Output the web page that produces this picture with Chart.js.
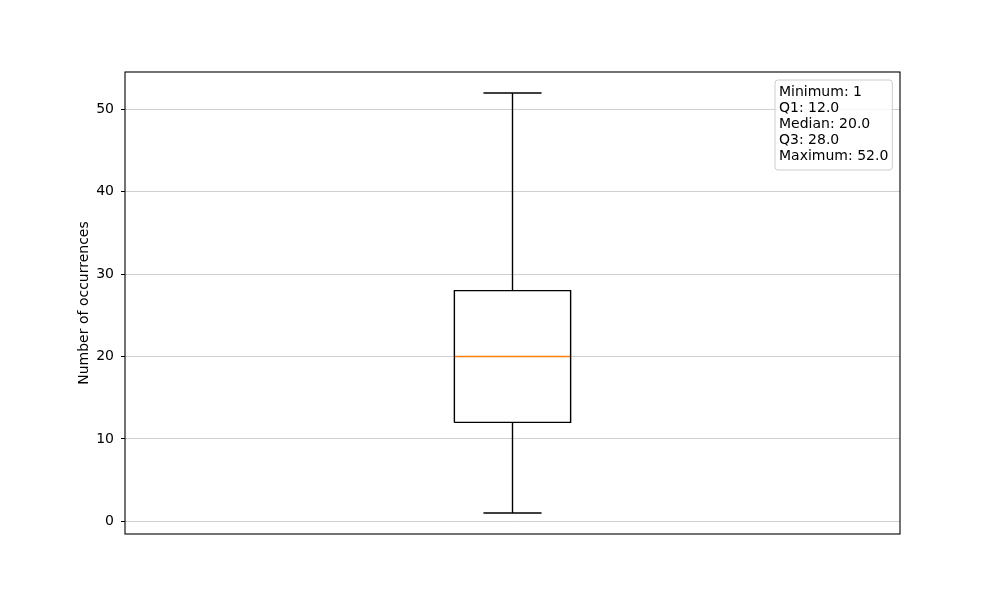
<!DOCTYPE html>
<html>
<head>
<meta charset="utf-8">
<script src="https://cdn.jsdelivr.net/npm/chart.js@4.4.0/dist/chart.umd.min.js"></script>
<style>
html,body{margin:0;padding:0;background:#fff;}
canvas{display:block;}
</style>
</head>
<body>
<canvas id="c" width="1000" height="600"></canvas>
<script>
// ---- data ----
const statNames = ['Minimum', 'Q1', 'Median', 'Q3', 'Maximum'];
const statValues = [1, 12, 20, 28, 52];
const statLabels = ['1', '12.0', '20.0', '28.0', '52.0'];
const yTicks = [0, 10, 20, 30, 40, 50];
const boxPosition = 1;
const boxWidth = 0.15;

const [vMin, vQ1, vMed, vQ3, vMax] = statValues;
const hw = boxWidth / 2, cw = boxWidth / 4;
const p = boxPosition;

function seg(points, color) {
  return {
    type: 'line',
    data: points.map(([x, y]) => ({x, y})),
    borderColor: color,
    borderWidth: 1.4,
    pointRadius: 0,
    fill: false,
    tension: 0,
    showLine: true
  };
}

const datasets = [
  seg([[p - hw, vQ1], [p + hw, vQ1], [p + hw, vQ3], [p - hw, vQ3], [p - hw, vQ1]], '#000'),
  seg([[p, vMin], [p, vQ1]], '#000'),
  seg([[p, vQ3], [p, vMax]], '#000'),
  seg([[p - cw, vMin], [p + cw, vMin]], '#000'),
  seg([[p - cw, vMax], [p + cw, vMax]], '#000'),
  seg([[p - hw, vMed], [p + hw, vMed]], '#ff7f0e')
];

const yMin = vMin - (vMax - vMin) * 0.05;
const yMax = vMax + (vMax - vMin) * 0.05;

const framePlugin = {
  id: 'frame',
  afterDatasetsDraw(chart) {
    const {ctx, chartArea: a} = chart;
    ctx.save();
    ctx.strokeStyle = '#000';
    ctx.lineWidth = 1.1;
    ctx.strokeRect(a.left, a.top, a.right - a.left, a.bottom - a.top);
    // stats box
    const lines = statNames.map((n, i) => n + ': ' + statLabels[i]);
    ctx.font = '14px "DejaVu Sans"';
    const lh = 16.2;
    let w = 0;
    lines.forEach(l => { w = Math.max(w, ctx.measureText(l).width); });
    const bx = 775, by = 80, bw = w + 8, bh = lines.length * lh + 9;
    const r = 3;
    ctx.beginPath();
    ctx.moveTo(bx + r, by);
    ctx.arcTo(bx + bw, by, bx + bw, by + bh, r);
    ctx.arcTo(bx + bw, by + bh, bx, by + bh, r);
    ctx.arcTo(bx, by + bh, bx, by, r);
    ctx.arcTo(bx, by, bx + bw, by, r);
    ctx.closePath();
    ctx.fillStyle = 'rgba(255,255,255,0.8)';
    ctx.fill();
    ctx.strokeStyle = '#cccccc';
    ctx.lineWidth = 1;
    ctx.stroke();
    ctx.fillStyle = '#000';
    ctx.textBaseline = 'alphabetic';
    ctx.textAlign = 'left';
    lines.forEach((l, i) => ctx.fillText(l, bx + 4, by + 15.5 + i * lh));
    ctx.restore();
  }
};

new Chart(document.getElementById('c'), {
  type: 'scatter',
  data: { datasets },
  options: {
    responsive: false,
    animation: false,
    layout: { padding: { left: 72, right: 100, top: 72, bottom: 66 } },
    plugins: { legend: { display: false }, tooltip: { enabled: false } },
    scales: {
      x: { type: 'linear', min: 0.5, max: 1.5, display: false },
      y: {
        type: 'linear',
        min: yMin,
        max: yMax,
        afterFit(scale) { scale.width = 53; },
        afterBuildTicks(scale) { scale.ticks = yTicks.map(v => ({ value: v })); },
        border: { display: false },
        grid: { color: '#d0d0d0', lineWidth: 1, tickColor: '#000', tickLength: 4, drawTicks: true },
        ticks: {
          color: '#000',
          padding: 7,
          font: { family: 'DejaVu Sans', size: 14 },
          callback: v => String(v)
        },
        title: {
          display: true,
          text: 'Number of occurrences',
          color: '#000',
          font: { family: 'DejaVu Sans', size: 14 },
          padding: { top: 4, bottom: 4 }
        }
      }
    }
  },
  plugins: [framePlugin]
});
</script>
</body>
</html>
